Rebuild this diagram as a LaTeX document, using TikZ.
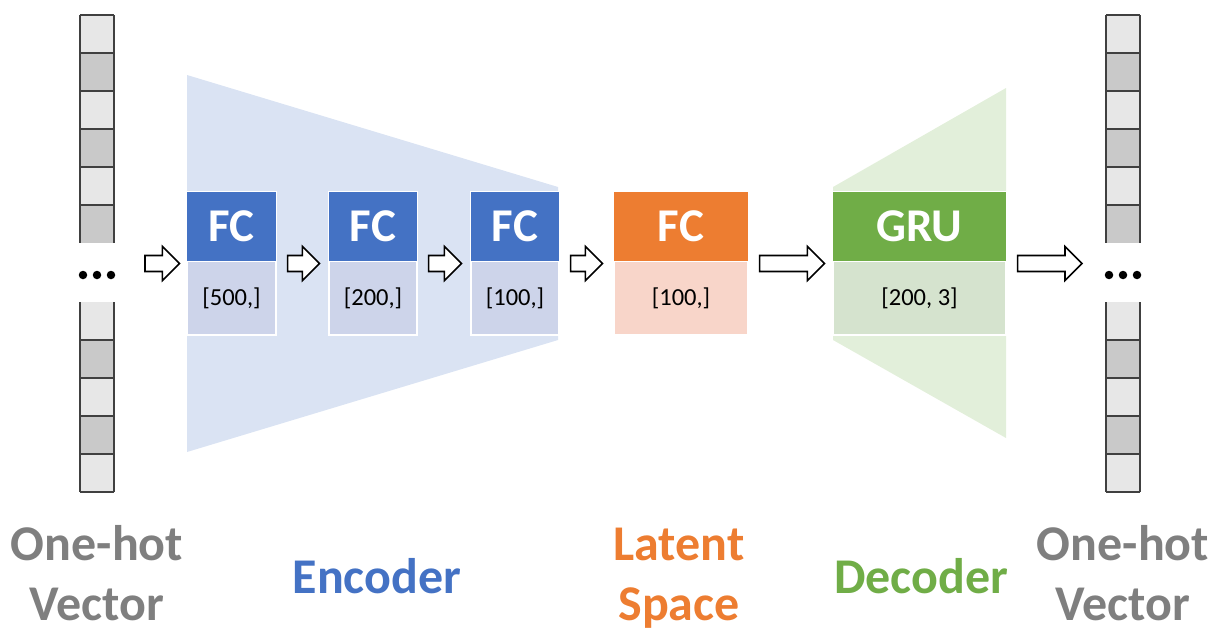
\documentclass[tikz,border=0pt]{standalone}
\usepackage{fontspec}
\setmainfont{Carlito}
\usetikzlibrary{calc}
\definecolor{encblue}{HTML}{4472C4}
\definecolor{enclow}{HTML}{CDD4EA}
\definecolor{enctrap}{HTML}{DAE3F3}
\definecolor{latorange}{HTML}{ED7D31}
\definecolor{latlow}{HTML}{F8D5C9}
\definecolor{decgreen}{HTML}{70AD47}
\definecolor{declow}{HTML}{D5E3CE}
\definecolor{dectrap}{HTML}{E2EFDA}
\definecolor{labgray}{HTML}{7F7F7F}
\definecolor{celllight}{HTML}{E7E7E7}
\definecolor{celldark}{HTML}{C9C9C9}
\definecolor{cellline}{HTML}{404040}
\tikzset{
  block/.style={rectangle, draw=white, line width=1.2pt, minimum height=143pt, inner sep=0pt},
  toppart/.style={draw=white, line width=1.2pt},
  toptext/.style={text=white, font=\fontsize{47}{50}\selectfont\bfseries, inner sep=0pt},
  dimtext/.style={text=black, font=\fontsize{24.5}{26}\selectfont, inner sep=0pt},
  labtext/.style={font=\fontsize{50}{56}\selectfont\bfseries, anchor=base, inner sep=0pt},
  barrow/.style={draw=black, fill=white, line width=1.6pt, line join=miter},
  cellline/.style={draw=cellline, line width=1.3pt},
  dot/.style={circle, fill=black, inner sep=0pt, minimum size=8.5pt}
}
\newcommand\blockarrow[2]{%
  \draw[barrow] let \p1=(#1), \p2=(#2), \n1={\x2-17pt} in
    (\x1,\y1+8pt) -- (\n1,\y1+8pt) -- (\n1,\y1+17pt) -- (\x2,\y1)
    -- (\n1,\y1-17pt) -- (\n1,\y1-8pt) -- (\x1,\y1-8pt) -- cycle;}
\newcommand\onehot[2]{% #1 = left x, #2 = name prefix
  \foreach \i in {0,...,5}{
    \pgfmathtruncatemacro\odd{mod(\i,2)}
    \ifnum\odd=0 \fill[celllight] (#1,15+38*\i) rectangle (#1+34,53+38*\i);
    \else \fill[celldark] (#1,15+38*\i) rectangle (#1+34,53+38*\i); \fi
  }
  \foreach \i in {0,...,4}{
    \pgfmathtruncatemacro\odd{mod(\i,2)}
    \ifnum\odd=0 \fill[celllight] (#1,302+38*\i) rectangle (#1+34,340+38*\i);
    \else \fill[celldark] (#1,302+38*\i) rectangle (#1+34,340+38*\i); \fi
  }
  \foreach \i in {0,...,5}{ \draw[cellline] (#1,15+38*\i) -- (#1+34,15+38*\i); }
  \foreach \i in {1,...,5}{ \draw[cellline] (#1,302+38*\i) -- (#1+34,302+38*\i); }
  \draw[cellline] (#1,15) -- (#1,243) (#1+34,15) -- (#1+34,243);
  \draw[cellline] (#1,302) -- (#1,492) (#1+34,302) -- (#1+34,492);
  \node[dot] (#2d1) at (#1+3,275) {};
  \node[dot] (#2d2) at (#1+17,275) {};
  \node[dot] (#2d3) at (#1+31,275) {};
  \coordinate (#2w) at (#1,263.5);
  \coordinate (#2e) at (#1+34,263.5);
}
\begin{document}
\begin{tikzpicture}[x=1pt,y=-1pt]
\useasboundingbox (0,0) rectangle (1214,632);
% trapezoids
\fill[enctrap] (187,75) -- (558,187) -- (558,340) -- (187,452) -- cycle;
\fill[dectrap] (833,187) -- (1006,88) -- (1006,438) -- (833,340) -- cycle;
% one-hot vectors
\onehot{80}{vin}
\onehot{1106}{vout}
% blocks
\node[block, fill=enclow, minimum width=89pt] (fc1) at (231.5,263.5) {};
\node[block, fill=enclow, minimum width=88pt] (fc2) at (373,263.5) {};
\node[block, fill=enclow, minimum width=88pt] (fc3) at (515,263.5) {};
\node[block, fill=latlow, minimum width=134pt] (lat) at (681,263.5) {};
\node[block, fill=declow, minimum width=173pt] (gru) at (919.5,263.5) {};
\foreach \b/\c in {fc1/encblue, fc2/encblue, fc3/encblue, lat/latorange, gru/decgreen}{
  \fill[toppart, fill=\c] (\b.north west) rectangle ([yshift=-70pt]\b.north east);
}
\node[toptext] (fc1t) at ([yshift=-35pt]fc1.north) {FC};
\node[toptext] (fc2t) at ([yshift=-35pt]fc2.north) {FC};
\node[toptext] (fc3t) at ([yshift=-35pt]fc3.north) {FC};
\node[toptext] (latt) at ([yshift=-35pt]lat.north) {FC};
\node[toptext] (grut) at ([yshift=-35pt]gru.north) {GRU};
\node[dimtext] (fc1d) at ([yshift=-106.5pt]fc1.north) {[500,]};
\node[dimtext] (fc2d) at ([yshift=-106.5pt]fc2.north) {[200,]};
\node[dimtext] (fc3d) at ([yshift=-106.5pt]fc3.north) {[100,]};
\node[dimtext] (latd) at ([yshift=-106.5pt]lat.north) {[100,]};
\node[dimtext] (grud) at ([yshift=-106.5pt]gru.north) {[200, 3]};
% arrows
\blockarrow{$(vine)+(31,0)$}{$(fc1.west)+(-7,0)$}
\blockarrow{$(fc1.east)+(11,0)$}{$(fc2.west)+(-9,0)$}
\blockarrow{$(fc2.east)+(11,0)$}{$(fc3.west)+(-9,0)$}
\blockarrow{$(fc3.east)+(11,0)$}{$(lat.west)+(-11,0)$}
\blockarrow{$(lat.east)+(11,0)$}{$(gru.west)+(-8,0)$}
\blockarrow{$(gru.east)+(11,0)$}{$(voutw)+(-24,0)$}
% labels
\node[labtext, text=labgray] (l1a) at (97,560) {One-hot};
\node[labtext, text=labgray] (l1b) at (97,620) {Vector};
\node[labtext, text=encblue] (l2) at (377,593) {Encoder};
\node[labtext, text=latorange] (l3a) at (679,560) {Latent};
\node[labtext, text=latorange] (l3b) at (679,620) {Space};
\node[labtext, text=decgreen] (l4) at (921,593) {Decoder};
\node[labtext, text=labgray] (l5a) at (1123,560) {One-hot};
\node[labtext, text=labgray] (l5b) at (1123,620) {Vector};
\end{tikzpicture}
\end{document}
